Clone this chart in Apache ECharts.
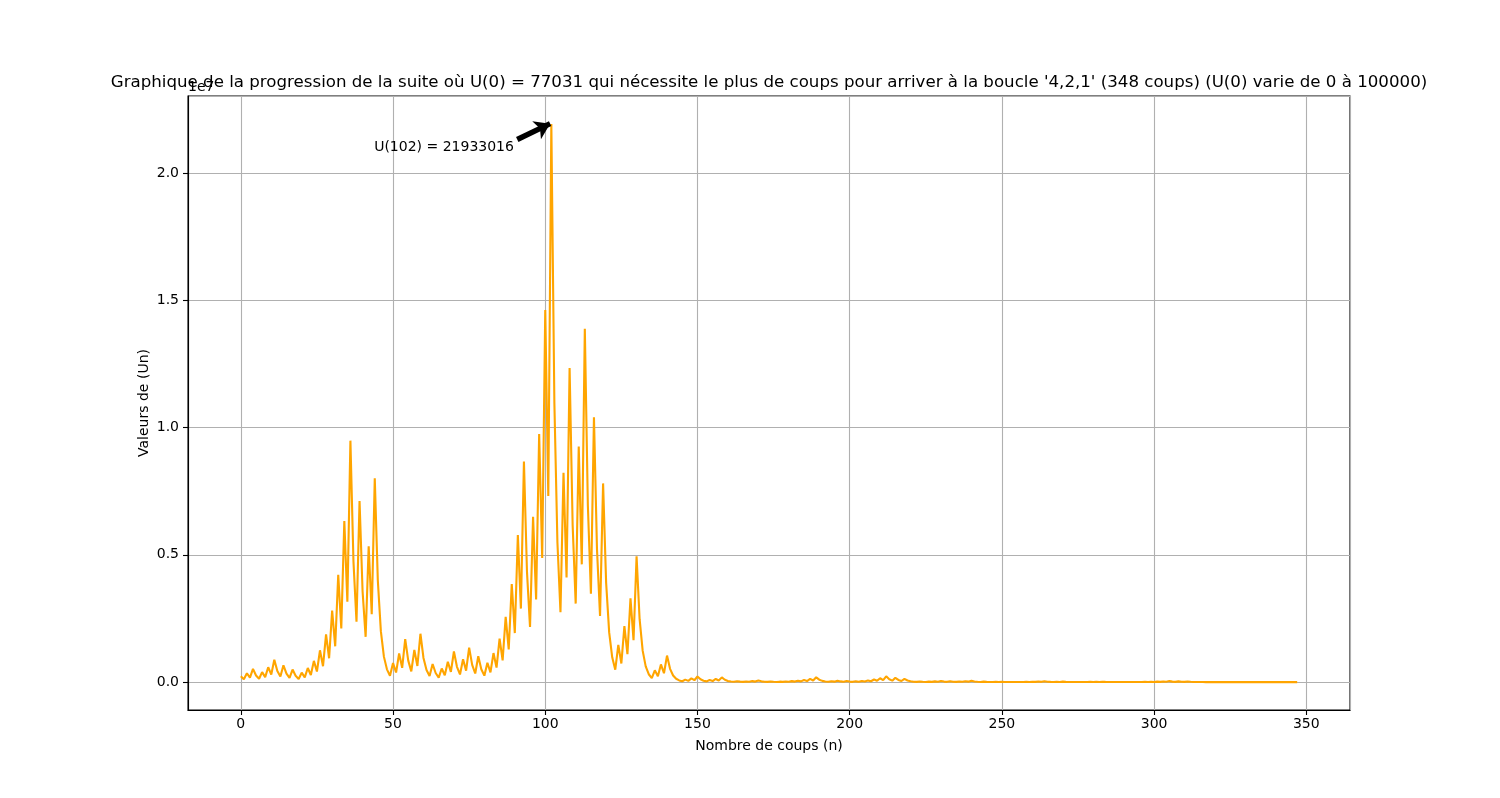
<!DOCTYPE html>
<html>
<head>
<meta charset="utf-8">
<script src="https://cdn.jsdelivr.net/npm/echarts@6/dist/echarts.min.js"></script>
<style>
  html, body { margin: 0; padding: 0; background: #fff; }
  #chart { width: 1500px; height: 798px; }
</style>
</head>
<body>
<div id="chart"></div>
<script>
// Suite de Syracuse de U(0) = 77031, valeurs tracees (index 0..347)
var suiteValeurs = [
  231094, 115547, 346642, 173321, 519964, 259982, 129991, 389974, 194987, 584962,
  292481, 877444, 438722, 219361, 658084, 329042, 164521, 493564, 246782, 123391,
  370174, 185087, 555262, 277631, 832894, 416447, 1249342, 624671, 1874014, 937007,
  2811022, 1405511, 4216534, 2108267, 6324802, 3162401, 9487204, 4743602, 2371801, 7115404,
  3557702, 1778851, 5336554, 2668277, 8004832, 4002416, 2001208, 1000604, 500302, 250151,
  750454, 375227, 1125682, 562841, 1688524, 844262, 422131, 1266394, 633197, 1899592,
  949796, 474898, 237449, 712348, 356174, 178087, 534262, 267131, 801394, 400697,
  1202092, 601046, 300523, 901570, 450785, 1352356, 676178, 338089, 1014268, 507134,
  253567, 760702, 380351, 1141054, 570527, 1711582, 855791, 2567374, 1283687, 3851062,
  1925531, 5776594, 2888297, 8664892, 4332446, 2166223, 6498670, 3249335, 9748006, 4874003,
  14622010, 7311005, 21933016, 10966508, 5483254, 2741627, 8224882, 4112441, 12337324, 6168662,
  3084331, 9252994, 4626497, 13879492, 6939746, 3469873, 10409620, 5204810, 2602405, 7807216,
  3903608, 1951804, 975902, 487951, 1463854, 731927, 2195782, 1097891, 3293674, 1646837,
  4940512, 2470256, 1235128, 617564, 308782, 154391, 463174, 231587, 694762, 347381,
  1042144, 521072, 260536, 130268, 65134, 32567, 97702, 48851, 146554, 73277,
  219832, 109916, 54958, 27479, 82438, 41219, 123658, 61829, 185488, 92744,
  46372, 23186, 11593, 34780, 17390, 8695, 26086, 13043, 39130, 19565,
  58696, 29348, 14674, 7337, 22012, 11006, 5503, 16510, 8255, 24766,
  12383, 37150, 18575, 55726, 27863, 83590, 41795, 125386, 62693, 188080,
  94040, 47020, 23510, 11755, 35266, 17633, 52900, 26450, 13225, 39676,
  19838, 9919, 29758, 14879, 44638, 22319, 66958, 33479, 100438, 50219,
  150658, 75329, 225988, 112994, 56497, 169492, 84746, 42373, 127120, 63560,
  31780, 15890, 7945, 23836, 11918, 5959, 17878, 8939, 26818, 13409,
  40228, 20114, 10057, 30172, 15086, 7543, 22630, 11315, 33946, 16973,
  50920, 25460, 12730, 6365, 19096, 9548, 4774, 2387, 7162, 3581,
  10744, 5372, 2686, 1343, 4030, 2015, 6046, 3023, 9070, 4535,
  13606, 6803, 20410, 10205, 30616, 15308, 7654, 3827, 11482, 5741,
  17224, 8612, 4306, 2153, 6460, 3230, 1615, 4846, 2423, 7270,
  3635, 10906, 5453, 16360, 8180, 4090, 2045, 6136, 3068, 1534,
  767, 2302, 1151, 3454, 1727, 5182, 2591, 7774, 3887, 11662,
  5831, 17494, 8747, 26242, 13121, 39364, 19682, 9841, 29524, 14762,
  7381, 22144, 11072, 5536, 2768, 1384, 692, 346, 173, 520,
  260, 130, 65, 196, 98, 49, 148, 74, 37, 112,
  56, 28, 14, 7, 22, 11, 34, 17, 52, 26,
  13, 40, 20, 10, 5, 16, 8, 4
];
var maxIndex = 102;
var maxValeur = 21933016;
var annotationTexte = 'U(102) = 21933016';
var titreTexte = "Graphique de la progression de la suite où U(0) = 77031 qui nécessite le plus de coups pour arriver à la boucle '4,2,1' (348 coups) (U(0) varie de 0 à 100000)";

var pts = suiteValeurs.map(function (v, i) { return [i, v]; });
var n = suiteValeurs.length - 1;
var xMin = -0.05 * n, xMax = n + 0.05 * n;
var yMin = -0.05 * maxValeur, yMax = maxValeur * 1.05;

var font = 'DejaVu Sans';
var myChart = echarts.init(document.getElementById('chart'));
var option = {
  backgroundColor: '#fff',
  animation: false,
  title: {
    text: titreTexte,
    left: 764, top: 69, textAlign: 'center',
    textStyle: { fontFamily: font, fontSize: 16.65, fontWeight: 'normal', color: '#000' }
  },
  grid: {
    left: 188, right: 150, top: 96, bottom: 88,
    show: true, borderColor: '#000', borderWidth: 1.1, backgroundColor: 'transparent'
  },
  xAxis: {
    type: 'value', min: xMin, max: xMax,
    minInterval: 50, maxInterval: 50,
    name: 'Nombre de coups (n)', nameLocation: 'middle', nameGap: 29,
    nameMoveOverlap: false,
    nameTextStyle: { fontFamily: font, fontSize: 14, color: '#000' },
    axisLine: { show: true, onZero: false, lineStyle: { color: '#000', width: 1.1 } },
    axisTick: { show: true, length: 5, lineStyle: { color: '#000', width: 1.1 } },
    axisLabel: { fontFamily: font, fontSize: 14, color: '#000', margin: 7,
      showMinLabel: false, showMaxLabel: false },
    splitLine: { show: true, lineStyle: { color: '#b0b0b0', width: 1.1 } }
  },
  yAxis: {
    type: 'value', min: yMin, max: yMax,
    minInterval: 5e6, maxInterval: 5e6,
    name: 'Valeurs de (Un)', nameLocation: 'middle', nameGap: 37, nameRotate: 90,
    nameMoveOverlap: false,
    nameTextStyle: { fontFamily: font, fontSize: 14, color: '#000' },
    axisLine: { show: true, onZero: false, lineStyle: { color: '#000', width: 1.1 } },
    axisTick: { show: true, length: 5, lineStyle: { color: '#000', width: 1.1 } },
    axisLabel: { fontFamily: font, fontSize: 14, color: '#000', margin: 9,
      showMinLabel: false, showMaxLabel: false,
      formatter: function (v) { return (v / 1e7).toFixed(1); } },
    splitLine: { show: true, lineStyle: { color: '#b0b0b0', width: 1.1 } }
  },
  series: [{
    type: 'line',
    data: pts,
    showSymbol: false,
    symbol: 'none',
    lineStyle: { color: '#FFA500', width: 2.1 },
    itemStyle: { color: '#FFA500' },
    z: 3,
    markLine: {
      silent: true,
      symbol: ['none', 'arrow'],
      symbolSize: [15, 15],
      label: { show: false },
      lineStyle: { color: '#000', width: 5.5, type: 'solid' },
      emphasis: { disabled: true },
      data: [[
        { coord: [90.8, 21.32e6] },
        { coord: [maxIndex - 0.4, maxValeur * 1.0005] }
      ]]
    }
  }]
};
myChart.setOption(option);

var p = myChart.convertToPixel({ gridIndex: 0 }, [43.8, 21.02e6]);
myChart.setOption({
  graphic: [{
    type: 'text', left: 188, top: 80,
    style: { text: '1e7', font: '14px "DejaVu Sans"', fill: '#000' }
  }, {
    type: 'text', x: p[0], y: p[1],
    style: { text: annotationTexte, font: '14px "DejaVu Sans"', fill: '#000',
      textAlign: 'left', textVerticalAlign: 'middle' }
  }]
});
</script>
</body>
</html>
